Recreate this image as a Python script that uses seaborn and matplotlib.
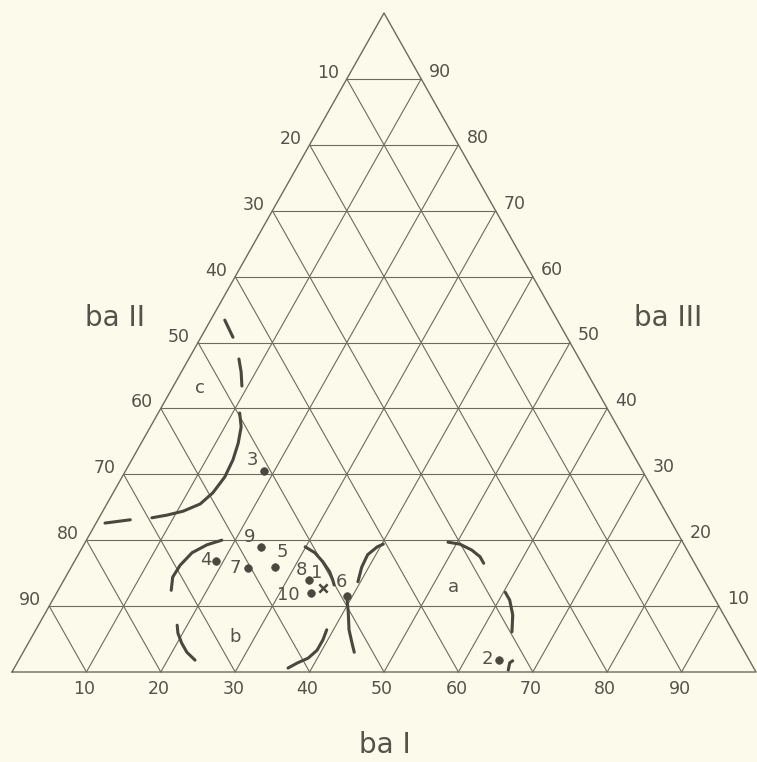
import matplotlib
matplotlib.use("Agg")
import matplotlib.pyplot as plt
import pandas as pd
import seaborn as sns

# sample points: position along base (ba I scale) and height level (ba III scale)
sample_ids = ["1", "2", "3", "4", "5", "6", "7", "8", "9", "10"]
pos_x = [41.8, 65.5, 33.9, 27.4, 35.3, 45.0, 31.7, 39.9, 33.5, 40.2]
pos_y = [12.7, 1.8, 30.5, 16.8, 15.9, 11.5, 15.8, 14.0, 19.0, 12.0]
markers = ["x", "o", "o", "o", "o", "o", "o", "o", "o", "o"]
# label offsets (pixels) relative to each point
label_dx = [-6, -12, -12, -10, 8, -5, -13, -7, -12, -23]
label_dy = [15, 1, 11, 1, 15, 14, 0, 10, 10, -2]

# hand drawn field boundaries
curves = {
    "c1": ([30.6, 30.8, 30.4, 29.7, 28.6, 27.0, 25.3, 23.0, 20.8, 18.8],
           [39.3, 37.2, 34.7, 32.2, 29.6, 27.2, 25.5, 24.4, 23.8, 23.4]),
    "c2": ([12.5, 15.9], [22.6, 23.1]),
    "c3": ([28.6, 29.7], [53.4, 50.8]),
    "c4": ([30.5, 30.8, 30.9], [47.5, 45.5, 43.4]),
    "c5": ([28.2, 26.2, 24.2, 22.6, 21.6, 21.4], [20.0, 19.3, 18.1, 16.2, 14.4, 12.4]),
    "c6": ([22.2, 22.3, 22.8, 23.5, 24.6], [7.1, 5.9, 4.4, 3.0, 1.8]),
    "c7": ([39.4, 40.7, 41.8, 42.7, 43.1, 43.3], [19.0, 18.1, 16.7, 15.2, 14.0, 13.2]),
    "c8": ([42.3, 41.8, 41.0, 39.8, 38.4, 37.1], [6.4, 4.9, 3.3, 2.1, 1.4, 0.6]),
    "c9": ([45.0, 45.2, 45.3, 45.7, 46.0], [11.4, 9.0, 6.4, 4.4, 3.0]),
    "c10": ([46.5, 47.0, 47.8, 49.1, 49.9], [13.7, 15.9, 17.8, 19.0, 19.4]),
    "c11": ([58.6, 60.2, 61.8, 62.9, 63.4], [19.7, 19.4, 18.5, 17.5, 16.5]),
    "c12": ([66.3, 66.9, 67.3, 67.3, 67.2], [12.1, 10.9, 9.4, 7.9, 6.1]),
    "c13": ([66.7, 66.9, 67.3], [0.3, 1.4, 1.7]),
}

field_names = ["a", "b", "c"]
field_x = [59.3, 30.0, 25.3]
field_y = [12.9, 5.3, 43.1]

ticks = [10, 20, 30, 40, 50, 60, 70, 80, 90]

BG = "#fbfaeb"
GRID = "#6f6b5c"
INK = "#4a473e"
TXT = "#55524a"

sns.set_style("white")
plt.rcParams["font.family"] = ["DejaVu Sans"]

fig = plt.figure(figsize=(7.57, 7.62), dpi=100, facecolor=BG)
ax = fig.add_axes([12 / 757, 90 / 762, 744 / 757, 659 / 762])
ax.set_facecolor(BG)
ax.set_xlim(0, 100)
ax.set_ylim(0, 100)
ax.axis("off")

# triangle outline
ax.plot([0, 100, 50, 0], [0, 0, 100, 0], color=GRID, lw=1.0, clip_on=False)

# grid lines
for t in ticks:
    # horizontal
    ax.plot([t / 2, 100 - t / 2], [t, t], color=GRID, lw=0.8, clip_on=False)
    # parallel to left edge, from base tick
    s = (100 - t) / 100
    ax.plot([t, t + 50 * s], [0, 100 * s], color=GRID, lw=0.8, clip_on=False)
    # parallel to right edge
    s = t / 100
    ax.plot([t, t - 50 * s], [0, 100 * s], color=GRID, lw=0.8, clip_on=False)

# tick labels
fs = 12.5
for t in ticks:
    ax.annotate(str(t), (t, 0), xytext=(-2, -17), textcoords="offset pixels",
                ha="center", va="center", fontsize=fs, color=TXT)
    # left edge (ba II): value = 100 - height
    ax.annotate(str(100 - t), (t / 2, t), xytext=(-8, 6), textcoords="offset pixels",
                ha="right", va="center", fontsize=fs, color=TXT)
    # right edge (ba III): value = height
    ax.annotate(str(t), (100 - t / 2, t), xytext=(8, 7), textcoords="offset pixels",
                ha="left", va="center", fontsize=fs, color=TXT)

# axis titles
ax.text(50.1, -11.1, "ba I", ha="center", va="center", fontsize=20, color=TXT)
ax.text(13.8, 53.7, "ba II", ha="center", va="center", fontsize=20, color=TXT)
ax.text(88.2, 53.7, "ba III", ha="center", va="center", fontsize=20, color=TXT)

# boundaries
for name, (cx, cy) in curves.items():
    df = pd.DataFrame({"x": cx, "y": cy})
    sns.lineplot(data=df, x="x", y="y", sort=False, ax=ax, color=INK, lw=2.2,
                 solid_capstyle="round", solid_joinstyle="round")

# samples
pts = pd.DataFrame({"x": pos_x, "y": pos_y, "id": sample_ids, "m": markers})
sns.scatterplot(data=pts[pts.m == "o"], x="x", y="y", ax=ax, color=INK, s=30,
                marker="o", edgecolor=INK, linewidth=0.5, zorder=5)
sns.scatterplot(data=pts[pts.m == "x"], x="x", y="y", ax=ax, color=INK, s=36,
                marker="x", linewidth=1.8, zorder=5)

for sid, x, y, dx, dy in zip(sample_ids, pos_x, pos_y, label_dx, label_dy):
    ax.annotate(sid, (x, y), xytext=(dx, dy), textcoords="offset pixels",
                ha="center", va="center", fontsize=13, color=TXT)

for name, x, y in zip(field_names, field_x, field_y):
    ax.text(x, y, name, ha="center", va="center", fontsize=13, color=TXT)

ax.set_xlabel("")
ax.set_ylabel("")
if ax.get_legend():
    ax.get_legend().remove()

fig.savefig("out.png", dpi=100, facecolor=BG)
